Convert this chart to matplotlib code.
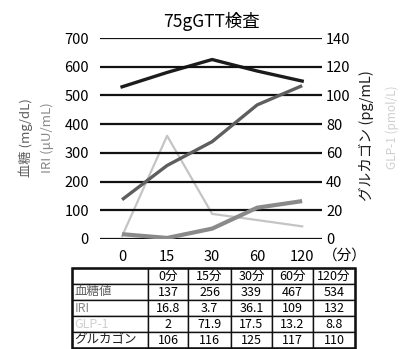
import matplotlib
matplotlib.use("Agg")
import matplotlib.pyplot as plt

plt.rcParams['font.family'] = ['Noto Sans CJK JP', 'DejaVu Sans']

times = ["0", "15", "30", "60", "120"]
col_labels = ["0分", "15分", "30分", "60分", "120分"]
glucose = [137, 256, 339, 467, 534]
iri = [16.8, 3.7, 36.1, 109, 132]
glp1 = [2, 71.9, 17.5, 13.2, 8.8]
glucagon = [106, 116, 125, 117, 110]
glucose_txt = ["137", "256", "339", "467", "534"]
iri_txt = ["16.8", "3.7", "36.1", "109", "132"]
glp1_txt = ["2", "71.9", "17.5", "13.2", "8.8"]
glucagon_txt = ["106", "116", "125", "117", "110"]

c_glu = "#5e5e5e"
c_iri = "#8a8a8a"
c_glp = "#c4c4c4"
c_gcg = "#1c1c1c"

W, H = 402, 349
fig = plt.figure(figsize=(W/100, H/100), dpi=100)
ax = fig.add_axes([100/W, 1-239/H, 222/W, 201/H])
ax2 = ax.twinx()

x = list(range(len(times)))
ax.set_xlim(-0.49, 4.44)
ax.set_ylim(0, 700)
ax2.set_ylim(0, 140)
ax.set_yticks(range(0, 701, 100))
ax2.set_yticks(range(0, 141, 20))
for y in range(0, 701, 100):
    ax.axhline(y, color="#111111", lw=1.6, zorder=1)

ax.plot(x, iri, color=c_iri, lw=3.0, zorder=3, solid_capstyle='butt')
ax.plot(x, glucose, color=c_glu, lw=2.4, zorder=4, solid_capstyle='butt')
ax2.plot(x, glp1, color=c_glp, lw=1.6, zorder=3)
ax2.plot(x, glucagon, color=c_gcg, lw=2.4, zorder=4)

for a in (ax, ax2):
    for s in a.spines.values():
        s.set_visible(False)
    a.tick_params(length=0, labelsize=10.5)
ax.set_xticks(x)
ax.set_xticklabels(times)
ax.tick_params(axis='x', pad=8)
ax.tick_params(axis='y', pad=8)
ax2.tick_params(axis='y', pad=3)
ax.set_zorder(ax2.get_zorder() + 1)
ax.patch.set_visible(False)

fig.text(211/W, 1-21/H, "75gGTT検査", ha='center', va='center', fontsize=12.5)
fig.text(345/W, 1-256/H, "（分）", ha='center', va='center', fontsize=10.5)

fig.text(26/W, 1-138/H, "血糖 (mg/dL)", rotation=90, ha='center', va='center',
         fontsize=9.5, color=c_glu)
fig.text(47/W, 1-138/H, "IRI (μU/mL)", rotation=90, ha='center', va='center',
         fontsize=9.5, color=c_iri)
fig.text(366/W, 1-136/H, "グルカゴン (pg/mL)", rotation=90, ha='center', va='center',
         fontsize=10.5, color=c_gcg)
fig.text(392/W, 1-127/H, "GLP-1 (pmol/L)", rotation=90, ha='center', va='center',
         fontsize=8.5, color="#cfcfcf")

# Table
tax = fig.add_axes([72/W, 1-348/H, 283/W, 80/H])
tax.axis('off')
cells = [[""] + col_labels,
         ["血糖値"] + glucose_txt,
         ["IRI"] + iri_txt,
         ["GLP-1"] + glp1_txt,
         ["グルカゴン"] + glucagon_txt]
widths = [76, 40, 43, 41, 41, 42]
tot = sum(widths)
tbl = tax.table(cellText=cells, colWidths=[w/tot for w in widths],
                bbox=[0, 0, 1, 1], cellLoc='center')
tbl.auto_set_font_size(False)
tbl.set_fontsize(9)
label_colors = [None, c_glu, c_iri, "#cfcfcf", c_gcg]
for (r, c), cell in tbl.get_celld().items():
    cell.set_linewidth(1.0)
    cell.set_edgecolor("#111111")
    t = cell.get_text()
    if c == 0:
        t.set_ha('left')
        cell.PAD = 0.03
        if label_colors[r]:
            t.set_color(label_colors[r])
tax.add_patch(plt.Rectangle((0, 0), 1, 1, fill=False, lw=1.8, ec="#111111",
                            transform=tax.transAxes, clip_on=False))

fig.savefig("out.png", dpi=100)
